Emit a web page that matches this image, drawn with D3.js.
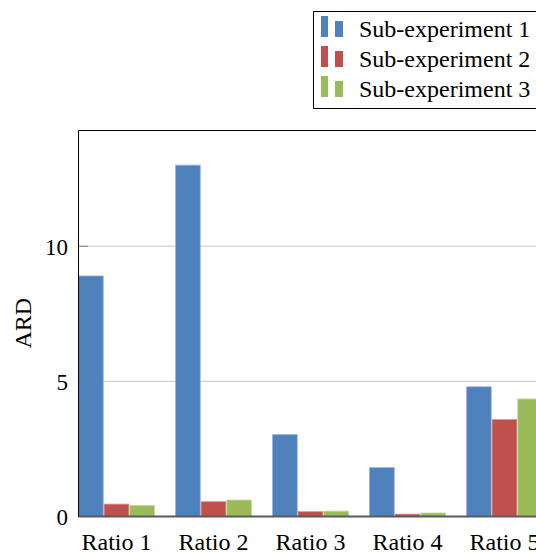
<!DOCTYPE html>
<html>
<head>
<meta charset="utf-8">
<script src="https://cdn.jsdelivr.net/npm/d3@7"></script>
<style>
body { margin: 0; background: #fff; }
svg { display: block; }
text { font-family: "Liberation Serif", "DejaVu Serif", serif; fill: #000; }
</style>
</head>
<body>
<div id="canvas"></div>
<script>
// ----------------------------------------------------------
// DATA -----------------------------------------------------
// ----------------------------------------------------------
var categories = ["Ratio 1", "Ratio 2", "Ratio 3", "Ratio 4", "Ratio 5"];
var series_names = ["Sub-experiment 1", "Sub-experiment 2", "Sub-experiment 3"];
var values_sub_1 = [8.9, 13.0, 3.03, 1.81, 4.8];
var values_sub_2 = [0.46, 0.55, 0.18, 0.09, 3.59];
var values_sub_3 = [0.41, 0.61, 0.2, 0.13, 4.35];
var y_ticks = [0, 5, 10];
var y_label = "ARD";

var colors = ["#4f81bd", "#c0504d", "#9bbb59"];
var colors_edge = ["#9db8dc", "#dc9a98", "#c6d9a2"];

// rows for drawing
var rows = [];
categories.forEach(function(c, i) {
  [values_sub_1, values_sub_2, values_sub_3].forEach(function(v, j) {
    rows.push({cat: c, series: series_names[j], value: v[i], k: j});
  });
});

// ----------------------------------------------------------
// STRUCTURE ------------------------------------------------
// ----------------------------------------------------------
var W = 536, H = 554;
var plot_left = 78, plot_top = 130, plot_bottom = 516.5, plot_right = 563;
var font_text = "'Liberation Serif', serif";

var svg = d3.select("#canvas").append("svg")
.attr("width", W)
.attr("height", H);

// ----------------------------------------------------------
// SCALES ---------------------------------------------------
// ----------------------------------------------------------
var xScale = d3.scaleBand()
.domain(categories)
.range([plot_left, 543])
.paddingInner(20 / 97)
.paddingOuter(0);

var xSub = d3.scaleBand()
.domain(series_names)
.range([0, xScale.bandwidth()]);

var yScale = d3.scaleLinear()
.domain([0, 14.3])
.range([plot_bottom, plot_top]);

// ----------------------------------------------------------
// GRID + AXES ----------------------------------------------
// ----------------------------------------------------------
var grid = svg.append("g").attr("class", "grid");
grid.selectAll("line")
.data(y_ticks.filter(function(d) { return d > 0; }))
.enter().append("line")
.attr("x1", plot_left).attr("x2", plot_right)
.attr("y1", function(d) { return yScale(d); })
.attr("y2", function(d) { return yScale(d); })
.style("stroke", "#c6c6c6").style("stroke-width", 1);

// y axis: labels left, short ticks inside
var yAxis = d3.axisLeft(yScale)
.tickValues(y_ticks)
.tickSize(0)
.tickPadding(10);
svg.append("g")
.attr("transform", "translate(" + plot_left + ",0)")
.call(function(g) {
  g.call(yAxis);
  g.attr("font-family", null);
  g.select(".domain").remove();
  g.selectAll(".tick text")
  .style("font-size", "23px")
  .style("font-family", font_text)
  .attr("dy", "0.34em");
});
svg.append("g").selectAll("line")
.data(y_ticks.filter(function(d) { return d > 0; }))
.enter().append("line")
.attr("x1", plot_left).attr("x2", plot_left + 10)
.attr("y1", function(d) { return yScale(d); })
.attr("y2", function(d) { return yScale(d); })
.style("stroke", "#808080").style("stroke-width", 1);

// ----------------------------------------------------------
// BARS -----------------------------------------------------
// ----------------------------------------------------------
svg.append("g").attr("class", "bars")
.selectAll("rect")
.data(rows)
.enter().append("rect")
.attr("x", function(d) { return xScale(d.cat) + xSub(d.series) + 0.4; })
.attr("width", xSub.bandwidth() - 0.8)
.attr("y", function(d) { return yScale(d.value); })
.attr("height", function(d) { return yScale(0) - yScale(d.value); })
.style("fill", function(d) { return colors[d.k]; })
.style("stroke", function(d) { return colors_edge[d.k]; })
.style("stroke-width", 0.8);

// x axis
var xAxis = d3.axisBottom(xScale).tickSize(0).tickPadding(16);
svg.append("g")
.attr("transform", "translate(0," + plot_bottom + ")")
.call(function(g) {
  g.call(xAxis);
  g.attr("font-family", null);
  g.select(".domain").remove();
  g.selectAll(".tick text")
  .style("font-size", "24px")
  .style("font-family", font_text)
  .attr("dy", "0.71em");
});
svg.append("line")
.attr("x1", plot_left).attr("x2", plot_right)
.attr("y1", plot_bottom).attr("y2", plot_bottom)
.style("stroke", "#5a5a5a").style("stroke-width", 2);

// frame top + left
svg.append("path")
.attr("d", "M" + plot_right + "," + (plot_top + 0.5) + "H" + (plot_left + 0.5) + "V" + plot_bottom)
.style("fill", "none").style("stroke", "#000").style("stroke-width", 1);

// y label
svg.append("text")
.attr("transform", "translate(31," + ((plot_top + plot_bottom) / 2) + ") rotate(-90)")
.attr("text-anchor", "middle")
.style("font-size", "24px")
.style("font-family", font_text)
.text(y_label);

// ----------------------------------------------------------
// LEGEND ---------------------------------------------------
// ----------------------------------------------------------
var legend = svg.append("g").attr("class", "legend");
legend.append("rect")
.attr("x", 313.5).attr("y", 11.5)
.attr("width", 260).attr("height", 97)
.style("fill", "#fff").style("stroke", "#000").style("stroke-width", 1);

var legend_row = legend.selectAll(".row")
.data(series_names)
.enter().append("g")
.attr("class", "row")
.attr("transform", function(d, i) { return "translate(0," + (37 + i * 30) + ")"; });
legend_row.append("rect")
.attr("x", 321).attr("y", -21).attr("width", 7).attr("height", 21)
.style("fill", function(d, i) { return colors[i]; });
legend_row.append("rect")
.attr("x", 335).attr("y", -16).attr("width", 8).attr("height", 16)
.style("fill", function(d, i) { return colors[i]; });
legend_row.append("text")
.attr("x", 359).attr("y", 0)
.style("font-size", "24px")
.style("font-family", font_text)
.text(function(d) { return d; });
</script>
</body>
</html>
